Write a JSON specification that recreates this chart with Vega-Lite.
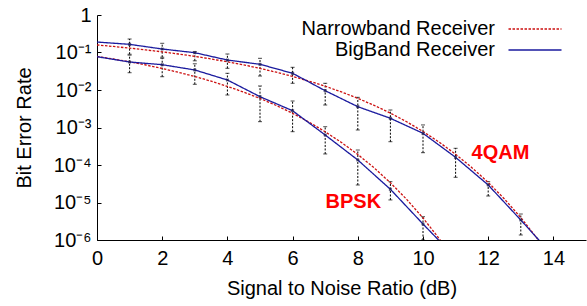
{
  "$schema": "https://vega.github.io/schema/vega-lite/v6.json",
  "autosize": "none",
  "width": 489,
  "height": 225,
  "padding": {"left": 97, "top": 15, "right": 1, "bottom": 66},
  "background": "white",
  "config": {
    "view": {"stroke": null},
    "font": "Liberation Sans",
    "axis": {"labelFont": "Liberation Sans", "titleFont": "Liberation Sans", "labelFontSize": 20, "titleFontSize": 20, "titleFontWeight": "normal", "labelColor": "black", "titleColor": "black", "domainColor": "black", "tickColor": "black", "grid": false}
  },
  "datasets": {
    "curves": [
      {"snr": 0, "ber": 0.1587, "receiver": "Narrowband Receiver", "mod": "4QAM"},
      {"snr": 0.5, "ber": 0.1448, "receiver": "Narrowband Receiver", "mod": "4QAM"},
      {"snr": 1, "ber": 0.1309, "receiver": "Narrowband Receiver", "mod": "4QAM"},
      {"snr": 1.5, "ber": 0.1172, "receiver": "Narrowband Receiver", "mod": "4QAM"},
      {"snr": 2, "ber": 0.104, "receiver": "Narrowband Receiver", "mod": "4QAM"},
      {"snr": 2.5, "ber": 0.0911, "receiver": "Narrowband Receiver", "mod": "4QAM"},
      {"snr": 3, "ber": 0.0789, "receiver": "Narrowband Receiver", "mod": "4QAM"},
      {"snr": 3.5, "ber": 0.0673, "receiver": "Narrowband Receiver", "mod": "4QAM"},
      {"snr": 4, "ber": 0.0565, "receiver": "Narrowband Receiver", "mod": "4QAM"},
      {"snr": 4.5, "ber": 0.0466, "receiver": "Narrowband Receiver", "mod": "4QAM"},
      {"snr": 5, "ber": 0.0377, "receiver": "Narrowband Receiver", "mod": "4QAM"},
      {"snr": 5.5, "ber": 0.0298, "receiver": "Narrowband Receiver", "mod": "4QAM"},
      {"snr": 6, "ber": 0.023, "receiver": "Narrowband Receiver", "mod": "4QAM"},
      {"snr": 6.5, "ber": 0.0173, "receiver": "Narrowband Receiver", "mod": "4QAM"},
      {"snr": 7, "ber": 0.0126, "receiver": "Narrowband Receiver", "mod": "4QAM"},
      {"snr": 7.5, "ber": 0.00887, "receiver": "Narrowband Receiver", "mod": "4QAM"},
      {"snr": 8, "ber": 0.006, "receiver": "Narrowband Receiver", "mod": "4QAM"},
      {"snr": 8.5, "ber": 0.0039, "receiver": "Narrowband Receiver", "mod": "4QAM"},
      {"snr": 9, "ber": 0.00242, "receiver": "Narrowband Receiver", "mod": "4QAM"},
      {"snr": 9.5, "ber": 0.00142, "receiver": "Narrowband Receiver", "mod": "4QAM"},
      {"snr": 10, "ber": 0.000783, "receiver": "Narrowband Receiver", "mod": "4QAM"},
      {"snr": 10.5, "ber": 0.000404, "receiver": "Narrowband Receiver", "mod": "4QAM"},
      {"snr": 11, "ber": 0.000194, "receiver": "Narrowband Receiver", "mod": "4QAM"},
      {"snr": 11.5, "ber": 0.000085, "receiver": "Narrowband Receiver", "mod": "4QAM"},
      {"snr": 12, "ber": 0.0000343, "receiver": "Narrowband Receiver", "mod": "4QAM"},
      {"snr": 12.5, "ber": 0.0000124, "receiver": "Narrowband Receiver", "mod": "4QAM"},
      {"snr": 13, "ber": 0.00000397, "receiver": "Narrowband Receiver", "mod": "4QAM"},
      {"snr": 13.5, "ber": 0.00000111, "receiver": "Narrowband Receiver", "mod": "4QAM"},
      {"snr": 14, "ber": 0.00000027, "receiver": "Narrowband Receiver", "mod": "4QAM"},
      {"snr": 0, "ber": 0.0786, "receiver": "Narrowband Receiver", "mod": "BPSK"},
      {"snr": 0.5, "ber": 0.0671, "receiver": "Narrowband Receiver", "mod": "BPSK"},
      {"snr": 1, "ber": 0.0563, "receiver": "Narrowband Receiver", "mod": "BPSK"},
      {"snr": 1.5, "ber": 0.0464, "receiver": "Narrowband Receiver", "mod": "BPSK"},
      {"snr": 2, "ber": 0.0375, "receiver": "Narrowband Receiver", "mod": "BPSK"},
      {"snr": 2.5, "ber": 0.0296, "receiver": "Narrowband Receiver", "mod": "BPSK"},
      {"snr": 3, "ber": 0.0229, "receiver": "Narrowband Receiver", "mod": "BPSK"},
      {"snr": 3.5, "ber": 0.0172, "receiver": "Narrowband Receiver", "mod": "BPSK"},
      {"snr": 4, "ber": 0.0125, "receiver": "Narrowband Receiver", "mod": "BPSK"},
      {"snr": 4.5, "ber": 0.0088, "receiver": "Narrowband Receiver", "mod": "BPSK"},
      {"snr": 5, "ber": 0.00595, "receiver": "Narrowband Receiver", "mod": "BPSK"},
      {"snr": 5.5, "ber": 0.00386, "receiver": "Narrowband Receiver", "mod": "BPSK"},
      {"snr": 6, "ber": 0.00239, "receiver": "Narrowband Receiver", "mod": "BPSK"},
      {"snr": 6.5, "ber": 0.0014, "receiver": "Narrowband Receiver", "mod": "BPSK"},
      {"snr": 7, "ber": 0.00077, "receiver": "Narrowband Receiver", "mod": "BPSK"},
      {"snr": 7.5, "ber": 0.000398, "receiver": "Narrowband Receiver", "mod": "BPSK"},
      {"snr": 8, "ber": 0.000191, "receiver": "Narrowband Receiver", "mod": "BPSK"},
      {"snr": 8.5, "ber": 0.000084, "receiver": "Narrowband Receiver", "mod": "BPSK"},
      {"snr": 9, "ber": 0.0000336, "receiver": "Narrowband Receiver", "mod": "BPSK"},
      {"snr": 9.5, "ber": 0.0000121, "receiver": "Narrowband Receiver", "mod": "BPSK"},
      {"snr": 10, "ber": 0.00000387, "receiver": "Narrowband Receiver", "mod": "BPSK"},
      {"snr": 10.5, "ber": 0.00000108, "receiver": "Narrowband Receiver", "mod": "BPSK"},
      {"snr": 11, "ber": 0.00000026, "receiver": "Narrowband Receiver", "mod": "BPSK"},
      {"snr": 0, "ber": 0.19, "receiver": "BigBand Receiver", "mod": "4QAM"},
      {"snr": 1, "ber": 0.165, "receiver": "BigBand Receiver", "mod": "4QAM"},
      {"snr": 2, "ber": 0.124, "receiver": "BigBand Receiver", "mod": "4QAM"},
      {"snr": 3, "ber": 0.0988, "receiver": "BigBand Receiver", "mod": "4QAM"},
      {"snr": 4, "ber": 0.063, "receiver": "BigBand Receiver", "mod": "4QAM"},
      {"snr": 5, "ber": 0.0485, "receiver": "BigBand Receiver", "mod": "4QAM"},
      {"snr": 6, "ber": 0.0279, "receiver": "BigBand Receiver", "mod": "4QAM"},
      {"snr": 7, "ber": 0.00958, "receiver": "BigBand Receiver", "mod": "4QAM"},
      {"snr": 8, "ber": 0.00359, "receiver": "BigBand Receiver", "mod": "4QAM"},
      {"snr": 9, "ber": 0.00176, "receiver": "BigBand Receiver", "mod": "4QAM"},
      {"snr": 10, "ber": 0.0007, "receiver": "BigBand Receiver", "mod": "4QAM"},
      {"snr": 11, "ber": 0.00016, "receiver": "BigBand Receiver", "mod": "4QAM"},
      {"snr": 12, "ber": 0.0000293, "receiver": "BigBand Receiver", "mod": "4QAM"},
      {"snr": 13, "ber": 0.00000341, "receiver": "BigBand Receiver", "mod": "4QAM"},
      {"snr": 14, "ber": 0.00000037, "receiver": "BigBand Receiver", "mod": "4QAM"},
      {"snr": 0, "ber": 0.0773, "receiver": "BigBand Receiver", "mod": "BPSK"},
      {"snr": 1, "ber": 0.0558, "receiver": "BigBand Receiver", "mod": "BPSK"},
      {"snr": 2, "ber": 0.0473, "receiver": "BigBand Receiver", "mod": "BPSK"},
      {"snr": 3, "ber": 0.0342, "receiver": "BigBand Receiver", "mod": "BPSK"},
      {"snr": 4, "ber": 0.0185, "receiver": "BigBand Receiver", "mod": "BPSK"},
      {"snr": 5, "ber": 0.00663, "receiver": "BigBand Receiver", "mod": "BPSK"},
      {"snr": 6, "ber": 0.0028, "receiver": "BigBand Receiver", "mod": "BPSK"},
      {"snr": 7, "ber": 0.000631, "receiver": "BigBand Receiver", "mod": "BPSK"},
      {"snr": 8, "ber": 0.000136, "receiver": "BigBand Receiver", "mod": "BPSK"},
      {"snr": 9, "ber": 0.0000225, "receiver": "BigBand Receiver", "mod": "BPSK"},
      {"snr": 10, "ber": 0.00000267, "receiver": "BigBand Receiver", "mod": "BPSK"},
      {"snr": 11, "ber": 0.00000034, "receiver": "BigBand Receiver", "mod": "BPSK"}
    ],
    "errs": [
      {"snr": 1, "ber": 0.165, "lo": 0.09, "hi": 0.229, "mod": "4QAM"},
      {"snr": 2, "ber": 0.124, "lo": 0.075, "hi": 0.176, "mod": "4QAM"},
      {"snr": 3, "ber": 0.0988, "lo": 0.06, "hi": 0.105, "mod": "4QAM"},
      {"snr": 4, "ber": 0.063, "lo": 0.0379, "hi": 0.0912, "mod": "4QAM"},
      {"snr": 5, "ber": 0.0485, "lo": 0.0236, "hi": 0.07, "mod": "4QAM"},
      {"snr": 6, "ber": 0.0279, "lo": 0.0151, "hi": 0.0403, "mod": "4QAM"},
      {"snr": 7, "ber": 0.00958, "lo": 0.00398, "hi": 0.0151, "mod": "4QAM"},
      {"snr": 8, "ber": 0.00359, "lo": 0.000858, "hi": 0.00638, "mod": "4QAM"},
      {"snr": 9, "ber": 0.00176, "lo": 0.000418, "hi": 0.00293, "mod": "4QAM"},
      {"snr": 10, "ber": 0.0007, "lo": 0.000213, "hi": 0.00117, "mod": "4QAM"},
      {"snr": 11, "ber": 0.00016, "lo": 0.000047, "hi": 0.000279, "mod": "4QAM"},
      {"snr": 12, "ber": 0.0000293, "lo": 0.0000149, "hi": 0.0000359, "mod": "4QAM"},
      {"snr": 13, "ber": 0.00000341, "lo": 0.00000136, "hi": 0.00000493, "mod": "4QAM"},
      {"snr": 1, "ber": 0.0558, "lo": 0.0289, "hi": 0.085, "mod": "BPSK"},
      {"snr": 2, "ber": 0.0473, "lo": 0.0226, "hi": 0.07, "mod": "BPSK"},
      {"snr": 3, "ber": 0.0342, "lo": 0.0142, "hi": 0.05, "mod": "BPSK"},
      {"snr": 4, "ber": 0.0185, "lo": 0.00736, "hi": 0.0279, "mod": "BPSK"},
      {"snr": 5, "ber": 0.00663, "lo": 0.00143, "hi": 0.0128, "mod": "BPSK"},
      {"snr": 6, "ber": 0.0028, "lo": 0.000773, "hi": 0.00509, "mod": "BPSK"},
      {"snr": 7, "ber": 0.000631, "lo": 0.000197, "hi": 0.00105, "mod": "BPSK"},
      {"snr": 8, "ber": 0.000136, "lo": 0.0000293, "hi": 0.000251, "mod": "BPSK"},
      {"snr": 9, "ber": 0.0000225, "lo": 0.0000117, "hi": 0.0000359, "mod": "BPSK"},
      {"snr": 10, "ber": 0.00000267, "lo": 0.000001, "hi": 0.00000418, "mod": "BPSK"}
    ],
    "labels": [
      {"snr": 11.49, "ber": 0.00021, "text": "4QAM"},
      {"snr": 7.01, "ber": 0.0000105, "text": "BPSK"}
    ]
  },
  "layer": [
    {
      "data": {"name": "errs"},
      "mark": {"type": "rule", "color": "black", "strokeWidth": 1, "strokeDash": [2, 1.5], "clip": true},
      "encoding": {
        "x": {"field": "snr", "type": "quantitative"},
        "y": {"field": "lo", "type": "quantitative"},
        "y2": {"field": "hi"}
      }
    },
    {
      "data": {"name": "errs"},
      "mark": {"type": "tick", "orient": "horizontal", "color": "black", "size": 4, "thickness": 1, "clip": true},
      "encoding": {
        "x": {"field": "snr", "type": "quantitative"},
        "y": {"field": "lo", "type": "quantitative"}
      }
    },
    {
      "data": {"name": "errs"},
      "mark": {"type": "tick", "orient": "horizontal", "color": "black", "size": 4, "thickness": 1, "clip": true},
      "encoding": {
        "x": {"field": "snr", "type": "quantitative"},
        "y": {"field": "hi", "type": "quantitative"}
      }
    },
    {
      "data": {"name": "curves"},
      "mark": {"type": "line", "strokeWidth": 1.3, "clip": true},
      "encoding": {
        "x": {
          "field": "snr", "type": "quantitative",
          "scale": {"domain": [0, 15], "nice": false, "zero": false},
          "axis": {"title": "Signal to Noise Ratio (dB)", "values": [0, 2, 4, 6, 8, 10, 12, 14], "tickSize": -4, "labelPadding": 12, "titlePadding": 10, "labelFlush": false}
        },
        "y": {
          "field": "ber", "type": "quantitative",
          "scale": {"type": "log", "domain": [0.000001, 1], "nice": false},
          "axis": {"title": "Bit Error Rate", "values": [1, 0.1, 0.01, 0.001, 0.0001, 0.00001, 0.000001], "tickSize": -4, "labelPadding": 10, "titlePadding": 19, "labelFlush": false,
            "labelExpr": "datum.value > 0.5 ? '1' : '10' + ['⁻¹','⁻²','⁻³','⁻⁴','⁻⁵','⁻⁶'][round(-log(datum.value)/LN10) - 1]"}
        },
        "color": {
          "field": "receiver", "type": "nominal",
          "scale": {"domain": ["Narrowband Receiver", "BigBand Receiver"], "range": ["#cc1111", "#1a1a9e"]},
          "legend": {"title": null, "orient": "none", "legendX": 427, "legendY": 3, "symbolType": "M-2.65,0H2.65", "symbolSize": 400, "symbolStrokeWidth": 1.3, "labelFontSize": 20, "labelFont": "Liberation Sans", "labelColor": "black", "labelAlign": "right", "labelOffset": -51, "rowPadding": 0, "padding": 0, "labelLimit": 400}
        },
        "strokeDash": {
          "field": "receiver", "type": "nominal",
          "scale": {"domain": ["Narrowband Receiver", "BigBand Receiver"], "range": [[2.5, 1.5], [1, 0]]},
          "legend": {"title": null, "orient": "none", "legendX": 427, "legendY": 3, "symbolType": "M-2.65,0H2.65", "symbolSize": 400, "symbolStrokeWidth": 1.3, "labelFontSize": 20, "labelFont": "Liberation Sans", "labelColor": "black", "labelAlign": "right", "labelOffset": -51, "rowPadding": 0, "padding": 0, "labelLimit": 400}
        },
        "detail": {"field": "mod"}
      }
    },
    {
      "data": {"name": "errs"},
      "mark": {"type": "point", "shape": "cross", "angle": 45, "filled": true, "size": 14, "color": "#202050", "clip": true},
      "encoding": {
        "x": {"field": "snr", "type": "quantitative"},
        "y": {"field": "ber", "type": "quantitative"}
      }
    },
    {
      "data": {"name": "labels"},
      "mark": {"type": "text", "align": "left", "baseline": "middle", "font": "Liberation Sans", "fontSize": 20, "fontWeight": "bold", "color": "#ff0000"},
      "encoding": {
        "x": {"field": "snr", "type": "quantitative"},
        "y": {"field": "ber", "type": "quantitative"},
        "text": {"field": "text"}
      }
    }
  ]
}
